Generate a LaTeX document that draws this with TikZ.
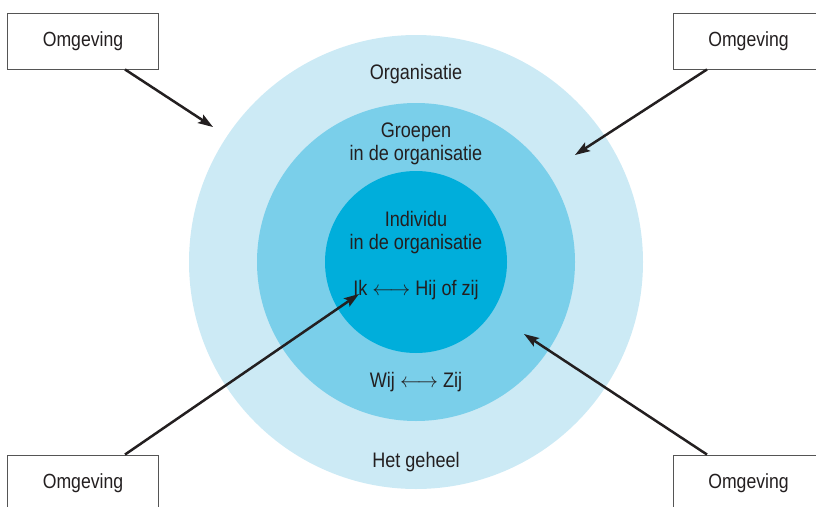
\documentclass[tikz,border=0pt]{standalone}
\usepackage{fontspec}
\setmainfont[FakeStretch=0.86]{Liberation Sans}
\usetikzlibrary{arrows.meta}
\definecolor{ringouter}{HTML}{CCEAF5}
\definecolor{ringmid}{HTML}{7ACFEA}
\definecolor{ringinner}{HTML}{00AEDB}
\definecolor{ink}{HTML}{231F20}
\definecolor{boxline}{HTML}{555555}
\begin{document}
\begin{tikzpicture}[x=1pt,y=-1pt,
  envbox/.style={draw=boxline,line width=0.9pt,fill=white,minimum width=151pt,minimum height=56pt,inner sep=0pt,font=\fontsize{20.5}{23}\selectfont,text=ink},
  lbl/.style={font=\fontsize{21}{23}\selectfont,text=ink,align=center,inner sep=0pt},
  push/.style={draw=ink,line width=2.5pt,-{Stealth[length=15pt,width=10pt,inset=3pt]}}]
  \useasboundingbox (0,0) rectangle (816,506);
  \clip (0,0) rectangle (816,506);
  % concentric levels
  \fill[ringouter] (416,262) circle[radius=227];
  \fill[ringmid] (416,262) circle[radius=159];
  \fill[ringinner] (416,262) circle[radius=91];
  % level labels
  \node[lbl] (org) at (416,74) {Organisatie};
  \node[lbl] (grp) at (416,144) {Groepen\\in de organisatie};
  \node[lbl] (ind) at (416,233) {Individu\\in de organisatie};
  \node[lbl] (ik) at (416,290) {Ik $\longleftrightarrow$ Hij of zij};
  \node[lbl] (wij) at (416,382) {Wij $\longleftrightarrow$ Zij};
  \node[lbl] (geh) at (416,462) {Het geheel};
  % environment boxes
  \node[envbox] (tl) at (83,41) {Omgeving};
  \node[envbox] (tr) at (748.5,41) {Omgeving};
  \node[envbox] (bl) at (83,483) {Omgeving};
  \node[envbox] (br) at (748.5,483) {Omgeving};
  % arrow tips
  \coordinate (tlend) at (213,127);
  \coordinate (trend) at (575,155);
  \coordinate (blend) at (359,294);
  \coordinate (brend) at (524,334);
  % influences from the environment
  \draw[push] ([xshift=42pt]tl.south) -- (tlend);
  \draw[push] ([xshift=-41.5pt]tr.south) -- (trend);
  \draw[push] ([xshift=42pt]bl.north) -- (blend);
  \draw[push] ([xshift=-41.5pt]br.north) -- (brend);
\end{tikzpicture}
\end{document}
